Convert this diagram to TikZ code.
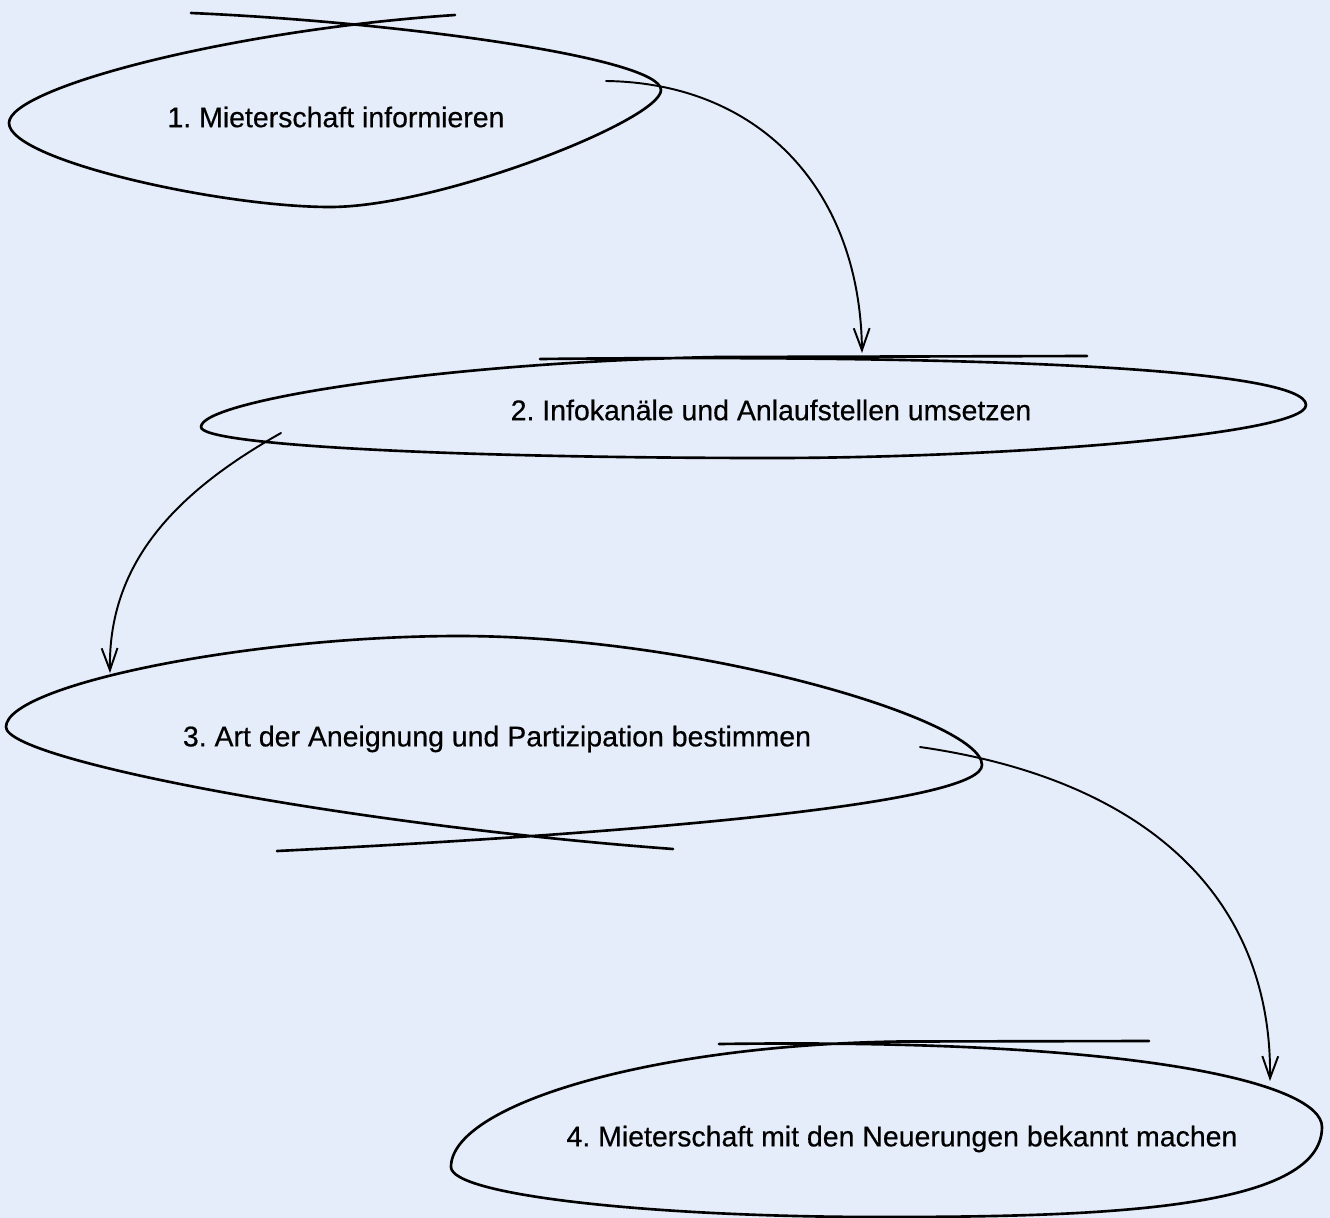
\documentclass[tikz,border=0pt]{standalone}
\usepackage{fontspec}
\setmainfont{Liberation Sans}
\newfontfamily\stagefont[FakeBold=0.5]{Liberation Sans}
\frenchspacing
\usetikzlibrary{arrows.meta}
\definecolor{bgblue}{RGB}{229,237,250}
\tikzstyle{stage} = [font=\fontsize{16.2}{19}\stagefont, text=black, inner sep=0pt]
\tikzstyle{sketch} = [line width=1.5pt, line cap=round, line join=round]
\tikzstyle{arrow} = [line width=1.1pt, line cap=round, -{Straight Barb[length=12.5pt,width=9pt]}]

\begin{document}
\begin{tikzpicture}[x=0.02cm, y=-0.02cm]
\useasboundingbox[fill=bgblue] (0,0) rectangle (1330,1218);

\node (1)[stage] at (336,117){1. Mieterschaft informieren};
\node (2)[stage] at (771,410){2. Infokanäle und Anlaufstellen umsetzen};
\node (3)[stage] at (497,739){3. Art der Aneignung und Partizipation bestimmen};
\node (4)[stage] at (902,1139){4. Mieterschaft mit den Neuerungen bekannt machen};

% hand drawn ellipses
\draw [sketch] (191,13) .. controls (400,22) and (661,58) .. (661,90)
  .. controls (661,120) and (440,207) .. (330,207)
  .. controls (220,207) and (9,160) .. (9,123)
  .. controls (9,88) and (230,30) .. (455,15);
\draw [sketch] (540,359) .. controls (1000,354) and (1306,370) .. (1306,405)
  .. controls (1306,435) and (1000,458) .. (772,458)
  .. controls (450,458) and (201,445) .. (201,427)
  .. controls (201,400) and (450,362) .. (717,357) -- (1087,356);
\draw [sketch] (277,851) .. controls (700,830) and (982,800) .. (982,765)
  .. controls (982,720) and (700,636) .. (459,636)
  .. controls (250,636) and (6,685) .. (6,727)
  .. controls (6,760) and (350,825) .. (673,849);
\draw [sketch] (719,1044) .. controls (1150,1038) and (1322,1085) .. (1322,1127)
  .. controls (1322,1210) and (1100,1217) .. (880,1217)
  .. controls (650,1217) and (451,1195) .. (451,1167)
  .. controls (451,1105) and (650,1045) .. (900,1041.5) -- (1149,1041);

\coordinate (1out) at (606,81);
\coordinate (2in) at (862,353);
\coordinate (2out) at (281,433);
\coordinate (3in) at (110,673);
\coordinate (3out) at (920,747);
\coordinate (4in) at (1270,1081);

\draw [arrow](1out) .. controls (760,83) and (860,190) .. (2in);
\draw [arrow](2out) .. controls (180,490) and (108,560) .. (3in);
\draw [arrow](3out) .. controls (1150,780) and (1272,900) .. (4in);
\end{tikzpicture}
\end{document}
